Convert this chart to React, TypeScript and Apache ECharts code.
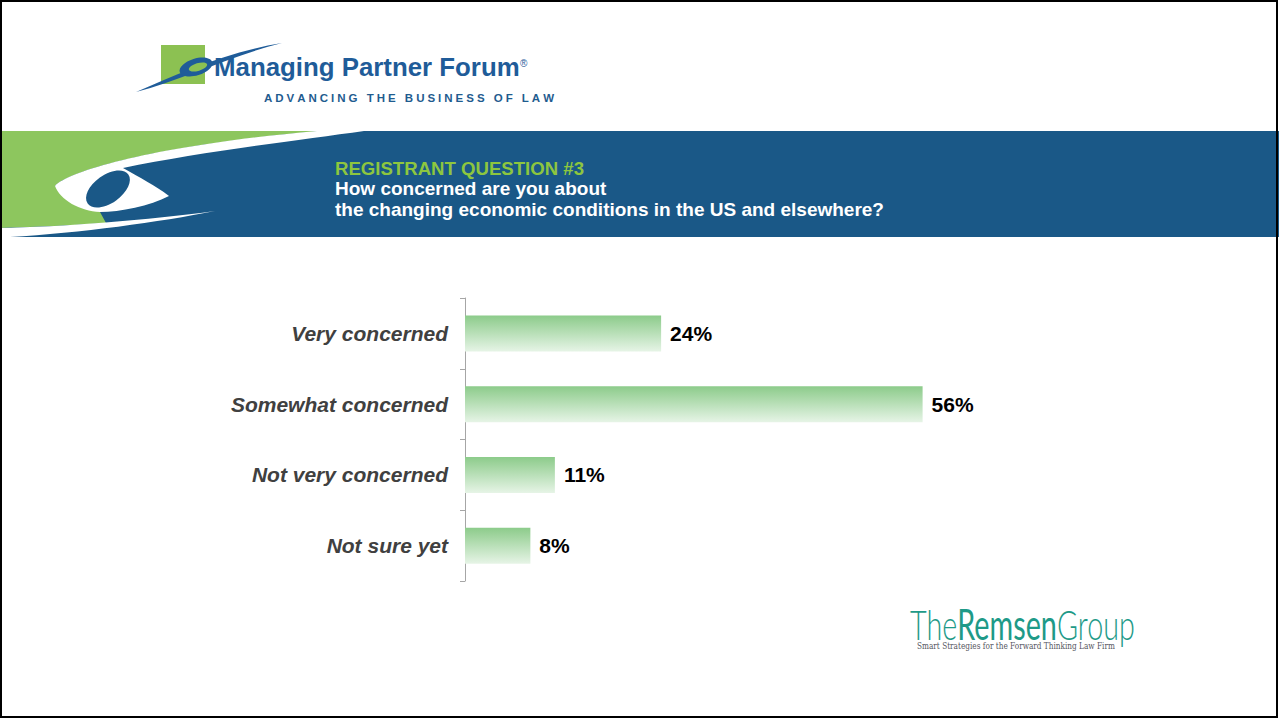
import React, { useEffect, useRef } from 'react';
import * as echarts from 'echarts';

// ---- data ----
const categories = ['Very concerned', 'Somewhat concerned', 'Not very concerned', 'Not sure yet'];
const values = [24, 56, 11, 8];
const valueLabels = ['24%', '56%', '11%', '8%'];
const headline = 'REGISTRANT QUESTION #3';
const questionLines = ['How concerned are you about', 'the changing economic conditions in the US and elsewhere?'];
const brandName = 'Managing Partner Forum';
const brandTagline = 'ADVANCING THE BUSINESS OF LAW';
const remsenParts = ['The', 'Remsen', 'Group'];
const remsenTagline = 'Smart Strategies for the Forward Thinking Law Firm';

const SANS = '"Liberation Sans", Arial, Helvetica, sans-serif';

const reg = (name: string, d: string) =>
  echarts.graphic.registerShape(name, echarts.graphic.extendPath(d, {}) as any);

reg('bannerGreen', 'M0,131 H322 C 160,145 70,170 55,186 L 100,212 L 106,223 C 60,226 30,227 0,228 Z');
reg('bannerWhiteS', 'M317,131 H364 C 300,140 200,152 123,168 C 140,178 155,185 169,196 C 150,206 120,212 100,212 C 80,211 60,200 55,186 C 70,170 160,145 317,131 Z');
reg('bannerWhiteBottom', 'M0,228 C 60,227 150,220 215,211 C 160,222 80,233 10,237 L 0,237 Z');
reg('logoSwoosh', 'M136,92 C 178,74 226,52 282,43 C 230,56 182,80 136,92 Z');

function measure(text: string, font: string): number {
  const ctx = document.createElement('canvas').getContext('2d') as CanvasRenderingContext2D;
  ctx.font = font;
  return ctx.measureText(text).width;
}

function spacedText(text: string, x0: number, x1: number, y: number, size: number, weight: string, color: string) {
  const font = `${weight} ${size}px ${SANS}`;
  const chars = text.split('');
  const widths = chars.map((c) => measure(c, font));
  const total = widths.reduce((a, b) => a + b, 0);
  const gap = (x1 - x0 - total) / (chars.length - 1);
  let x = x0;
  const els: any[] = [];
  chars.forEach((c, i) => {
    if (c !== ' ') {
      els.push({
        type: 'text', x, y, z: 5,
        style: { text: c, fill: color, fontSize: size, fontWeight: weight, fontFamily: SANS, textVerticalAlign: 'middle', verticalAlign: 'middle' },
      });
    }
    x += widths[i] + gap;
  });
  return els;
}

function remsenLogo() {
  const size = 42;
  const weights = ['300', 'normal', '300'];
  const fonts = weights.map((w) => `${w} ${size}px Lato`);
  const widths = remsenParts.map((p, i) => measure(p, fonts[i]));
  const total = widths.reduce((a, b) => a + b, 0);
  const k = 225 / total;
  let x = 910;
  const els: any[] = [];
  remsenParts.forEach((p, i) => {
    els.push({
      type: 'text', x, y: 624, scaleX: k, z: 5,
      style: { text: p, fill: '#1E9A88', fontSize: size, fontWeight: weights[i], fontFamily: 'Lato', textVerticalAlign: 'middle', verticalAlign: 'middle' },
    });
    x += widths[i] * k;
  });
  const tagFont = `normal 10px "DejaVu Serif"`;
  const tw = measure(remsenTagline, tagFont);
  els.push({
    type: 'text', x: 917, y: 646, scaleX: 198 / tw, z: 5,
    style: { text: remsenTagline, fill: '#555560', fontSize: 10, fontFamily: '"DejaVu Serif"', textVerticalAlign: 'middle', verticalAlign: 'middle' },
  });
  return els;
}

export default function App() {
  const ref = useRef<HTMLDivElement>(null);
  useEffect(() => {
    if (!ref.current) return;
    const chart = echarts.init(ref.current, undefined, { renderer: 'svg' });
    const brandFont = `bold 25px ${SANS}`;
    const bw = measure(brandName, brandFont);
    const blue = '#1A5887';
    const graphics: any[] = [
      // banner
      { type: 'rect', z: 0, shape: { x: 0, y: 131, width: 1279, height: 106 }, style: { fill: blue } },
      { type: 'bannerGreen', z: 1, x: 0, y: 0, style: { fill: '#8DC65E' } },
      { type: 'bannerWhiteS', z: 2, x: 0, y: 0, style: { fill: '#ffffff' } },
      { type: 'bannerWhiteBottom', z: 2, x: 0, y: 0, style: { fill: '#ffffff' } },
      { type: 'ellipse', z: 3, x: 108, y: 189, rotation: 0.62, shape: { cx: 0, cy: 0, rx: 25, ry: 14 }, style: { fill: blue } },
      // title texts
      { type: 'text', z: 5, x: 335, y: 168, style: { text: headline, fill: '#8DC63F', fontSize: 18.6, fontWeight: 'bold', fontFamily: SANS, textVerticalAlign: 'middle', verticalAlign: 'middle' } },
      { type: 'text', z: 5, x: 335, y: 188, style: { text: questionLines[0], fill: '#ffffff', fontSize: 19, fontWeight: 'bold', fontFamily: SANS, textVerticalAlign: 'middle', verticalAlign: 'middle' } },
      { type: 'text', z: 5, x: 335, y: 209, style: { text: questionLines[1], fill: '#ffffff', fontSize: 19, fontWeight: 'bold', fontFamily: SANS, textVerticalAlign: 'middle', verticalAlign: 'middle' } },
      // top logo
      { type: 'rect', z: 1, shape: { x: 161, y: 45, width: 44, height: 39 }, style: { fill: '#8CC152' } },
      { type: 'logoSwoosh', z: 2, x: 0, y: 0, style: { fill: '#1F5C99' } },
      { type: 'ellipse', z: 2, x: 196, y: 67, rotation: 0.3, shape: { cx: 0, cy: 0, rx: 17, ry: 8.5 }, style: { fill: '#1F5C99' } },
      { type: 'ellipse', z: 3, x: 198, y: 67, rotation: 0.3, shape: { cx: 0, cy: 0, rx: 9.5, ry: 3.8 }, style: { fill: '#8CC152' } },
      { type: 'text', z: 5, x: 214, y: 80, scaleX: 306 / bw, style: { text: brandName, fill: '#1F5C99', fontSize: 25, fontWeight: 'bold', fontFamily: SANS, textVerticalAlign: 'bottom', verticalAlign: 'bottom' } },
      { type: 'text', z: 5, x: 520, y: 63, style: { text: '®', fill: '#1F5C99', fontSize: 10, fontFamily: SANS, textVerticalAlign: 'middle', verticalAlign: 'middle' } },
      ...spacedText(brandTagline, 264, 554, 98, 11.5, 'bold', '#1F5C8F'),
      ...remsenLogo(),
      // frame
      { type: 'rect', z: 100, shape: { x: 1, y: 1, width: 1276, height: 716 }, style: { fill: 'none', stroke: '#000000', lineWidth: 2 } },
    ];
    chart.setOption({
      animation: false,
      backgroundColor: '#ffffff',
      grid: { left: 465, top: 298, width: 572, height: 283, containLabel: false },
      xAxis: { type: 'value', min: 0, max: 70, show: false },
      yAxis: {
        type: 'category',
        data: categories,
        inverse: true,
        axisLine: { show: true, lineStyle: { color: '#A6A6A6', width: 1 } },
        axisTick: { show: true, length: 5, lineStyle: { color: '#A6A6A6' } },
        axisLabel: { margin: 17, fontSize: 21, fontWeight: 'bold', fontStyle: 'italic', color: '#404040', fontFamily: SANS },
      },
      series: [
        {
          type: 'bar',
          data: values,
          barWidth: 36,
          itemStyle: {
            color: new echarts.graphic.LinearGradient(0, 0, 0, 1, [
              { offset: 0, color: '#8CCB8A' },
              { offset: 1, color: '#E6F4E6' },
            ]),
          },
          label: {
            show: true,
            position: 'right',
            distance: 9,
            formatter: (p: any) => valueLabels[p.dataIndex],
            fontSize: 21,
            fontWeight: 'bold',
            color: '#000000',
            fontFamily: SANS,
          },
        },
      ],
      graphic: { elements: graphics },
    });
    return () => chart.dispose();
  }, []);
  return <div ref={ref} style={{ position: 'fixed', left: 0, top: 0, width: 1279, height: 719 }} />;
}
